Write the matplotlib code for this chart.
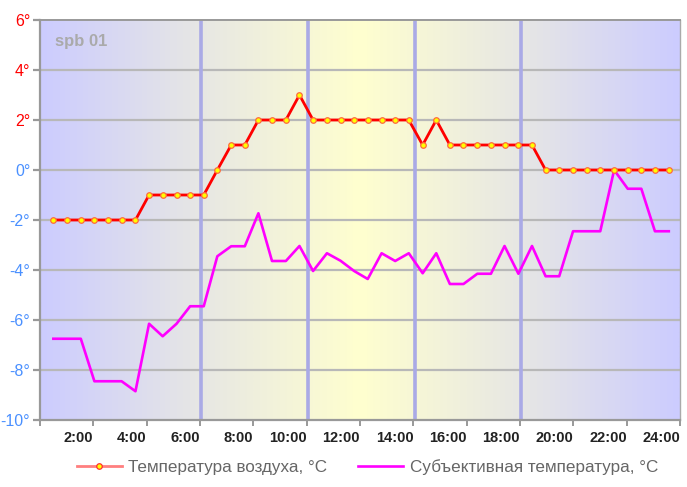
import numpy as np
import matplotlib
matplotlib.use("Agg")
import matplotlib.pyplot as plt
from matplotlib.colors import LinearSegmentedColormap

plt.rcParams['font.family'] = ['Liberation Sans', 'DejaVu Sans']

# observation times, hours
hours = [0.50, 1.01, 1.53, 2.04, 2.55, 3.06, 3.58, 4.09, 4.60, 5.12,
         5.63, 6.14, 6.65, 7.17, 7.68, 8.19, 8.70, 9.22, 9.73, 10.24,
         10.76, 11.27, 11.78, 12.29, 12.81, 13.32, 13.83, 14.35, 14.86, 15.37,
         15.88, 16.40, 16.91, 17.42, 17.94, 18.45, 18.96, 19.47, 19.99, 20.50,
         21.01, 21.53, 22.04, 22.55, 23.06, 23.58]

air_temp = [-2, -2, -2, -2, -2, -2, -2, -1, -1, -1,
            -1, -1, 0, 1, 1, 2, 2, 2, 3, 2,
            2, 2, 2, 2, 2, 2, 2, 1, 2, 1,
            1, 1, 1, 1, 1, 1, 0, 0, 0, 0,
            0, 0, 0, 0, 0, 0]

feels_temp = [-6.75, -6.75, -6.75, -8.45, -8.45, -8.45, -8.85, -6.15, -6.65, -6.15,
              -5.45, -5.45, -3.45, -3.05, -3.05, -1.73, -3.64, -3.64, -3.04, -4.04,
              -3.33, -3.63, -4.04, -4.36, -3.33, -3.64, -3.33, -4.13, -3.33, -4.56,
              -4.56, -4.15, -4.15, -3.04, -4.15, -3.04, -4.25, -4.25, -2.45, -2.45,
              -2.45, 0.0, -0.75, -0.75, -2.45, -2.45]

y_ticks = [-10, -8, -6, -4, -2, 0, 2, 4, 6]
x_ticks = [2, 4, 6, 8, 10, 12, 14, 16, 18, 20, 22, 24]
x_labels = ["2:00", "4:00", "6:00", "8:00", "10:00", "12:00",
            "14:00", "16:00", "18:00", "20:00", "22:00", "24:00"]
marker_hours = [6, 10, 14, 18]

fig = plt.figure(figsize=(6.87, 4.87), dpi=100)
ax = fig.add_axes([40 / 687, 1 - 420 / 487, 640 / 687, 400 / 487])

# background gradient night -> day -> night
cmap = LinearSegmentedColormap.from_list("daybg", [
    (0.0, "#ccccff"), (0.25, "#e7e7e4"), (0.5, "#ffffcf"),
    (0.75, "#e7e7e4"), (1.0, "#ccccff")])
grad = np.linspace(0, 1, 512).reshape(1, -1)
ax.imshow(grad, cmap=cmap, aspect='auto', extent=[0, 24, -10, 6], zorder=0)

for yv in y_ticks[1:-1]:
    ax.axhline(yv, color="#b8b8b8", lw=1.6, zorder=1)
for xv in marker_hours:
    ax.axvline(xv + 0.05, color="#aaaae6", lw=2.6, zorder=1)

ax.plot(hours, feels_temp, color="#ff00ff", lw=1.9, zorder=3,
        label="Субъективная температура, °С")
ax.plot(hours, air_temp, color="#ff0000", lw=2.0, zorder=4,
        marker='o', ms=4.0, mfc="#ffff00", mec="#ff6a3d", mew=0.9,
        label="Температура воздуха, °С")

ax.set_xlim(0, 24)
ax.set_ylim(-10, 6)

ax.set_yticks(y_ticks)
ax.set_yticklabels([f"{v}°" for v in y_ticks], fontsize=11.5)
for lbl, v in zip(ax.get_yticklabels(), y_ticks):
    lbl.set_color("#ff0000" if v > 0 else "#4a90ff")
ax.tick_params(axis='y', length=5, width=1.6, color="#999999", pad=2)

ax.set_xticks([0] + x_ticks)
ax.set_xticklabels([""] + x_labels, fontsize=10.5, fontweight='bold',
                   color="#222222", ha='right')
ax.tick_params(axis='x', length=4, width=1.4, color="#999999", pad=4)

for side in ['left', 'bottom']:
    ax.spines[side].set_color("#999999")
    ax.spines[side].set_linewidth(1.6)
ax.spines['top'].set_color("#999999")
ax.spines['top'].set_linewidth(1.4)
ax.spines['right'].set_color("#aaaaaa")
ax.spines['right'].set_linewidth(1.0)

ax.text(0.55, 4.95, "spb 01", fontsize=12, fontweight='bold', color="#aaaaaa",
        zorder=5)

handles, labels = ax.get_legend_handles_labels()
leg = fig.legend(handles[::-1], labels[::-1], loc='center', ncol=2,
                 bbox_to_anchor=(0.535, 1 - 467 / 487), frameon=False,
                 fontsize=12.3, handlelength=2.6, columnspacing=1.8,
                 handletextpad=0.4)
for t in leg.get_texts():
    t.set_color("#666666")
leg.legend_handles[0].set_color("#ff7f7f")
leg.legend_handles[0].set_markeredgecolor("#ff3030")

fig.savefig("out.png", dpi=100)
